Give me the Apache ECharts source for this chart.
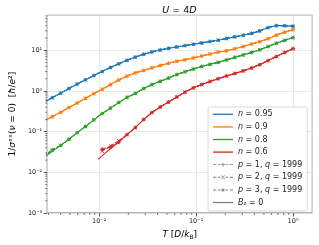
<!DOCTYPE html>
<html><head><meta charset="utf-8">
<script src="https://cdn.jsdelivr.net/npm/echarts@6/dist/echarts.min.js"></script>
<style>html,body{margin:0;padding:0;background:#fff}#c{width:319px;height:245px}</style>
</head><body><div id="c"></div>
<script>
// Temperatures T [D/kB] (log-spaced grid)
const T = [0.00270, 0.00329, 0.00401, 0.00488, 0.00594, 0.00723, 0.00881, 0.01074, 0.01307, 0.01592, 0.01938,
  0.0236, 0.0288, 0.0350, 0.0427, 0.0519, 0.0632, 0.0770, 0.0938, 0.1142, 0.139,
  0.169, 0.206, 0.251, 0.306, 0.373, 0.454, 0.553, 0.673, 0.820, 1.0];
// 1/sigma_xx values for each filling
const n095 = [0.531, 0.686, 0.885, 1.155, 1.482, 1.883, 2.39, 3.02, 3.77, 4.65, 5.68, 6.82, 8.01, 9.15, 10.2, 11.2,
  12.1, 13.1, 14.1, 15.2, 16.5, 17.7, 19.5, 21.4, 23.5, 26.1, 30.0, 36.2, 40.5, 40.3, 38.9];
const n090 = [0.182, 0.234, 0.299, 0.394, 0.508, 0.659, 0.857, 1.105, 1.435, 1.863, 2.32, 2.79, 3.19, 3.71, 4.23,
  4.81, 5.37, 5.84, 6.49, 7.25, 8.10, 9.05, 9.78, 10.9, 12.4, 14.3, 16.3, 19.2, 23.6, 27.9, 32.1];
const n080 = [0.0230, 0.0330, 0.0460, 0.0649, 0.0947, 0.134, 0.195, 0.279, 0.379, 0.520, 0.697, 0.871, 1.149, 1.435,
  1.723, 2.08, 2.53, 2.98, 3.47, 4.00, 4.52, 5.05, 5.81, 6.71, 7.71, 8.85, 10.3, 12.4, 14.9, 17.6, 20.6];
const n060 = [null, null, null, null, null, null, null, 0.0257, 0.0379, 0.0565, 0.0847, 0.126, 0.200, 0.295, 0.405,
  0.534, 0.713, 0.940, 1.194, 1.435, 1.714, 2.00, 2.34, 2.70, 3.12, 3.68, 4.45, 5.58, 7.05, 8.85, 11.0];
// Bz = 0 red curve starts slightly earlier
const redStart = [0.0098, 0.0208];
// finite-field (p, q=1999) deviations at the lowest temperatures (index into T -> value)
const redP1 = {7: 0.0358, 8: 0.0424, 9: 0.0558};
const redP2 = {7: 0.0330, 8: 0.0445, 9: 0.0600};
const redP3 = {7: 0.0385, 8: 0.0410, 9: 0.0540};
const greenP1 = {0: 0.0250, 1: 0.0360};
const greenP2 = {0: 0.0245, 1: 0.0350};
const greenP3 = {0: 0.0255, 1: 0.0365};
// axes
const xMin = 0.00291, xMax = 1.58, yMin = 0.001, yMax = 72.5;
const xMinor = [0.003,0.004,0.005,0.006,0.007,0.008,0.009,0.02,0.03,0.04,0.05,0.06,0.07,0.08,0.09,0.2,0.3,0.4,0.5,0.6,0.7,0.8,0.9];
const yMinor = [0.002,0.003,0.004,0.005,0.006,0.007,0.008,0.009,0.02,0.03,0.04,0.05,0.06,0.07,0.08,0.09,
  0.2,0.3,0.4,0.5,0.6,0.7,0.8,0.9,2,3,4,5,6,7,8,9,20,30,40,50,60,70];

const colors = ['#1f77b4', '#ff7f0e', '#2ca02c', '#d62728'];
const names = ['n95', 'n90', 'n80', 'n60'];
const labels = {n95: '{i|n} = 0.95', n90: '{i|n} = 0.9', n80: '{i|n} = 0.8', n60: '{i|n} = 0.6',
  p1: '{i|p} = 1, {i|q} = 1999', p2: '{i|p} = 2, {i|q} = 1999', p3: '{i|p} = 3, {i|q} = 1999', bz: '{i|B}{sub|z} = 0'};
const SYM = {
  p1: 'path://M0,5L10,5M5,0L5,10',
  p2: 'path://M1.5,1.5L8.5,8.5M1.5,8.5L8.5,1.5',
  p3: 'path://M5,0L6.2,3.4L10,3.5L7,5.8L8.1,9.5L5,7.3L1.9,9.5L3,5.8L0,3.5L3.8,3.4Z'
};
const SYMSIZE = {p1: 3.6, p2: 3.4, p3: 4};
// legend icons (20 x 8 box): solid line, and dashed line with a centred marker
const LINEICON = 'path://M0,0H20V1.3H0Z';
const DASH = 'M0,3.5H3.4V4.4H0ZM5,3.5H7.6V4.4H5ZM12.4,3.5H15V4.4H12.4ZM16.6,3.5H20V4.4H16.6Z';
const ICON = {
  p1: 'path://' + DASH + 'M8,3.55H12V4.35H8ZM9.6,2H10.4V6H9.6Z',
  p2: 'path://' + DASH + 'M8.2,2.5L8.7,2L11.8,5.5L11.3,6ZM8.2,5.5L8.7,6L11.8,2.5L11.3,2Z',
  p3: 'path://' + DASH + 'M10,1.8L10.6,3.3L12.2,3.4L11,4.4L11.4,6L10,5.1L8.6,6L9,4.4L7.8,3.4L9.4,3.3Z'
};
function pts(arr, over) {
  const out = [];
  arr.forEach((v, i) => {
    const val = (over && over[i] != null) ? over[i] : v;
    if (val != null) out.push([T[i], val]);
  });
  return out;
}
const sets = [
  {data: n095, over: [null, null, null]},
  {data: n090, over: [null, null, null]},
  {data: n080, over: [greenP1, greenP2, greenP3]},
  {data: n060, over: [redP1, redP2, redP3]}
];
const series = [];
sets.forEach((s, ci) => {
  const c = colors[ci];
  ['p1', 'p2', 'p3'].forEach((p, pi) => {
    series.push({
      type: 'line', name: p + '_' + ci, data: pts(s.data, s.over[pi]),
      symbol: SYM[p], symbolSize: SYMSIZE[p], showSymbol: true,
      lineStyle: {color: c, width: 1, type: [3.5, 1.5]},
      itemStyle: {color: c, borderColor: c, borderWidth: p === 'p3' ? 0 : 0.9},
      emphasis: {disabled: true}, animation: false, z: 3
    });
  });
  let solid = pts(s.data);
  if (ci === 3) solid = [redStart].concat(solid);
  series.push({
    type: 'line', name: names[ci], data: solid, symbol: 'none',
    lineStyle: {color: c, width: 1.1}, itemStyle: {color: c},
    emphasis: {disabled: true}, animation: false, z: 2
  });
});
// legend-only entries (gray)
['p1', 'p2', 'p3'].forEach(p => {
  series.push({type: 'line', name: p, data: [], symbol: 'none',
    lineStyle: {color: '#808080', width: 0.9}, itemStyle: {color: '#808080'}});
});
series.push({type: 'line', name: 'bz', data: [], symbol: 'none', lineStyle: {color: '#808080', width: 1.1}, itemStyle: {color: '#808080'}});
// minor ticks
series.push({
  type: 'custom', silent: true, data: xMinor.map(v => [v, yMin]), clip: false, z: 5,
  renderItem: (params, api) => {
    const p = api.coord([api.value(0), yMin]);
    return {type: 'line', shape: {x1: p[0], y1: p[1], x2: p[0], y2: p[1] + 2}, style: {stroke: '#333', lineWidth: 0.6}};
  }
});
series.push({
  type: 'custom', silent: true, data: yMinor.map(v => [xMin, v]), clip: false, z: 5,
  renderItem: (params, api) => {
    const p = api.coord([xMin, api.value(1)]);
    return {type: 'line', shape: {x1: p[0], y1: p[1], x2: p[0] - 2, y2: p[1]}, style: {stroke: '#333', lineWidth: 0.6}};
  }
});

const SUP = {'-': '\u207B', '0': '\u2070', '1': '\u00B9', '2': '\u00B2', '3': '\u00B3'};
function decade(v) {
  const e = Math.log10(v);
  const r = Math.round(e);
  if (Math.abs(e - r) > 1e-6) return '';
  return '10' + String(r).split('').map(ch => SUP[ch]).join('');
}
const FONT = 'DejaVu Sans';
const chart = echarts.init(document.getElementById('c'), null, {renderer: 'canvas'});
chart.setOption({
  animation: false,
  backgroundColor: '#fff',
  title: {
    text: '{i|U} = 4{i|D}', left: 174.5, textAlign: 'center', top: 1,
    textStyle: {fontFamily: FONT, fontSize: 9.5, fontWeight: 'normal', color: '#000',
      rich: {i: {fontFamily: FONT, fontSize: 9.5, fontStyle: 'italic', color: '#000'}}}
  },
  grid: {left: 37, right: 6.7, top: 15.3, bottom: 28, show: true, borderColor: '#444', borderWidth: 0.8, containLabel: false},
  legend: {
    orient: 'vertical', left: 208, top: 107, itemWidth: 20, itemHeight: 8, itemGap: 4.6,
    padding: [3.3, 5, 4, 5], backgroundColor: '#fff', borderColor: '#d0d0d0', borderWidth: 0.8, borderRadius: 2,
    data: [
      {name: 'n95', icon: LINEICON}, {name: 'n90', icon: LINEICON}, {name: 'n80', icon: LINEICON}, {name: 'n60', icon: LINEICON},
      {name: 'p1', icon: ICON.p1}, {name: 'p2', icon: ICON.p2}, {name: 'p3', icon: ICON.p3}, {name: 'bz', icon: LINEICON}
    ],
    formatter: n => labels[n],
    textStyle: {fontFamily: FONT, fontSize: 8, color: '#222',
      rich: {i: {fontFamily: FONT, fontSize: 8, fontStyle: 'italic', color: '#222'},
             sub: {fontFamily: FONT, fontSize: 5.5, color: '#222', verticalAlign: 'bottom', padding: [3, 0, 0, 0]}}},
    selectedMode: false
  },
  xAxis: {
    type: 'log', logBase: 10, min: xMin, max: xMax,
    name: '{i|T} [{i|D}/{i|k}{sub|B}]', nameLocation: 'middle', nameGap: 17,
    nameTextStyle: {fontFamily: FONT, fontSize: 9, color: '#000',
      rich: {i: {fontFamily: FONT, fontSize: 9, fontStyle: 'italic', color: '#000'},
             sub: {fontFamily: FONT, fontSize: 6, color: '#000', verticalAlign: 'bottom', padding: [4, 0, 0, 0]}}},
    axisLine: {show: false},
    axisTick: {show: true, inside: false, length: 3.5, lineStyle: {color: '#333', width: 0.8}},
    axisLabel: {fontFamily: FONT, fontSize: 6.5, color: '#222', margin: 5, formatter: decade, showMinLabel: false, showMaxLabel: false},
    splitLine: {show: true, lineStyle: {color: '#e3e3e3', width: 0.8}},
    minorTick: {show: false}
  },
  yAxis: {
    type: 'log', logBase: 10, min: yMin, max: yMax,
    name: '1/{i|\u03C3}\u02E3\u02E3({i|\u03BD} = 0)  [{i|\u0127}/{i|e}\u00B2]', nameLocation: 'middle', nameGap: 22, nameRotate: 90,
    nameTextStyle: {fontFamily: FONT, fontSize: 9, color: '#000',
      rich: {i: {fontFamily: FONT, fontSize: 9, fontStyle: 'italic', color: '#000'}}},
    axisLine: {show: false},
    axisTick: {show: true, inside: false, length: 3.5, lineStyle: {color: '#333', width: 0.8}},
    axisLabel: {fontFamily: FONT, fontSize: 6.5, color: '#222', margin: 5, formatter: decade, showMaxLabel: false},
    splitLine: {show: true, lineStyle: {color: '#e3e3e3', width: 0.8}}
  },
  series: series
});
</script></body></html>
